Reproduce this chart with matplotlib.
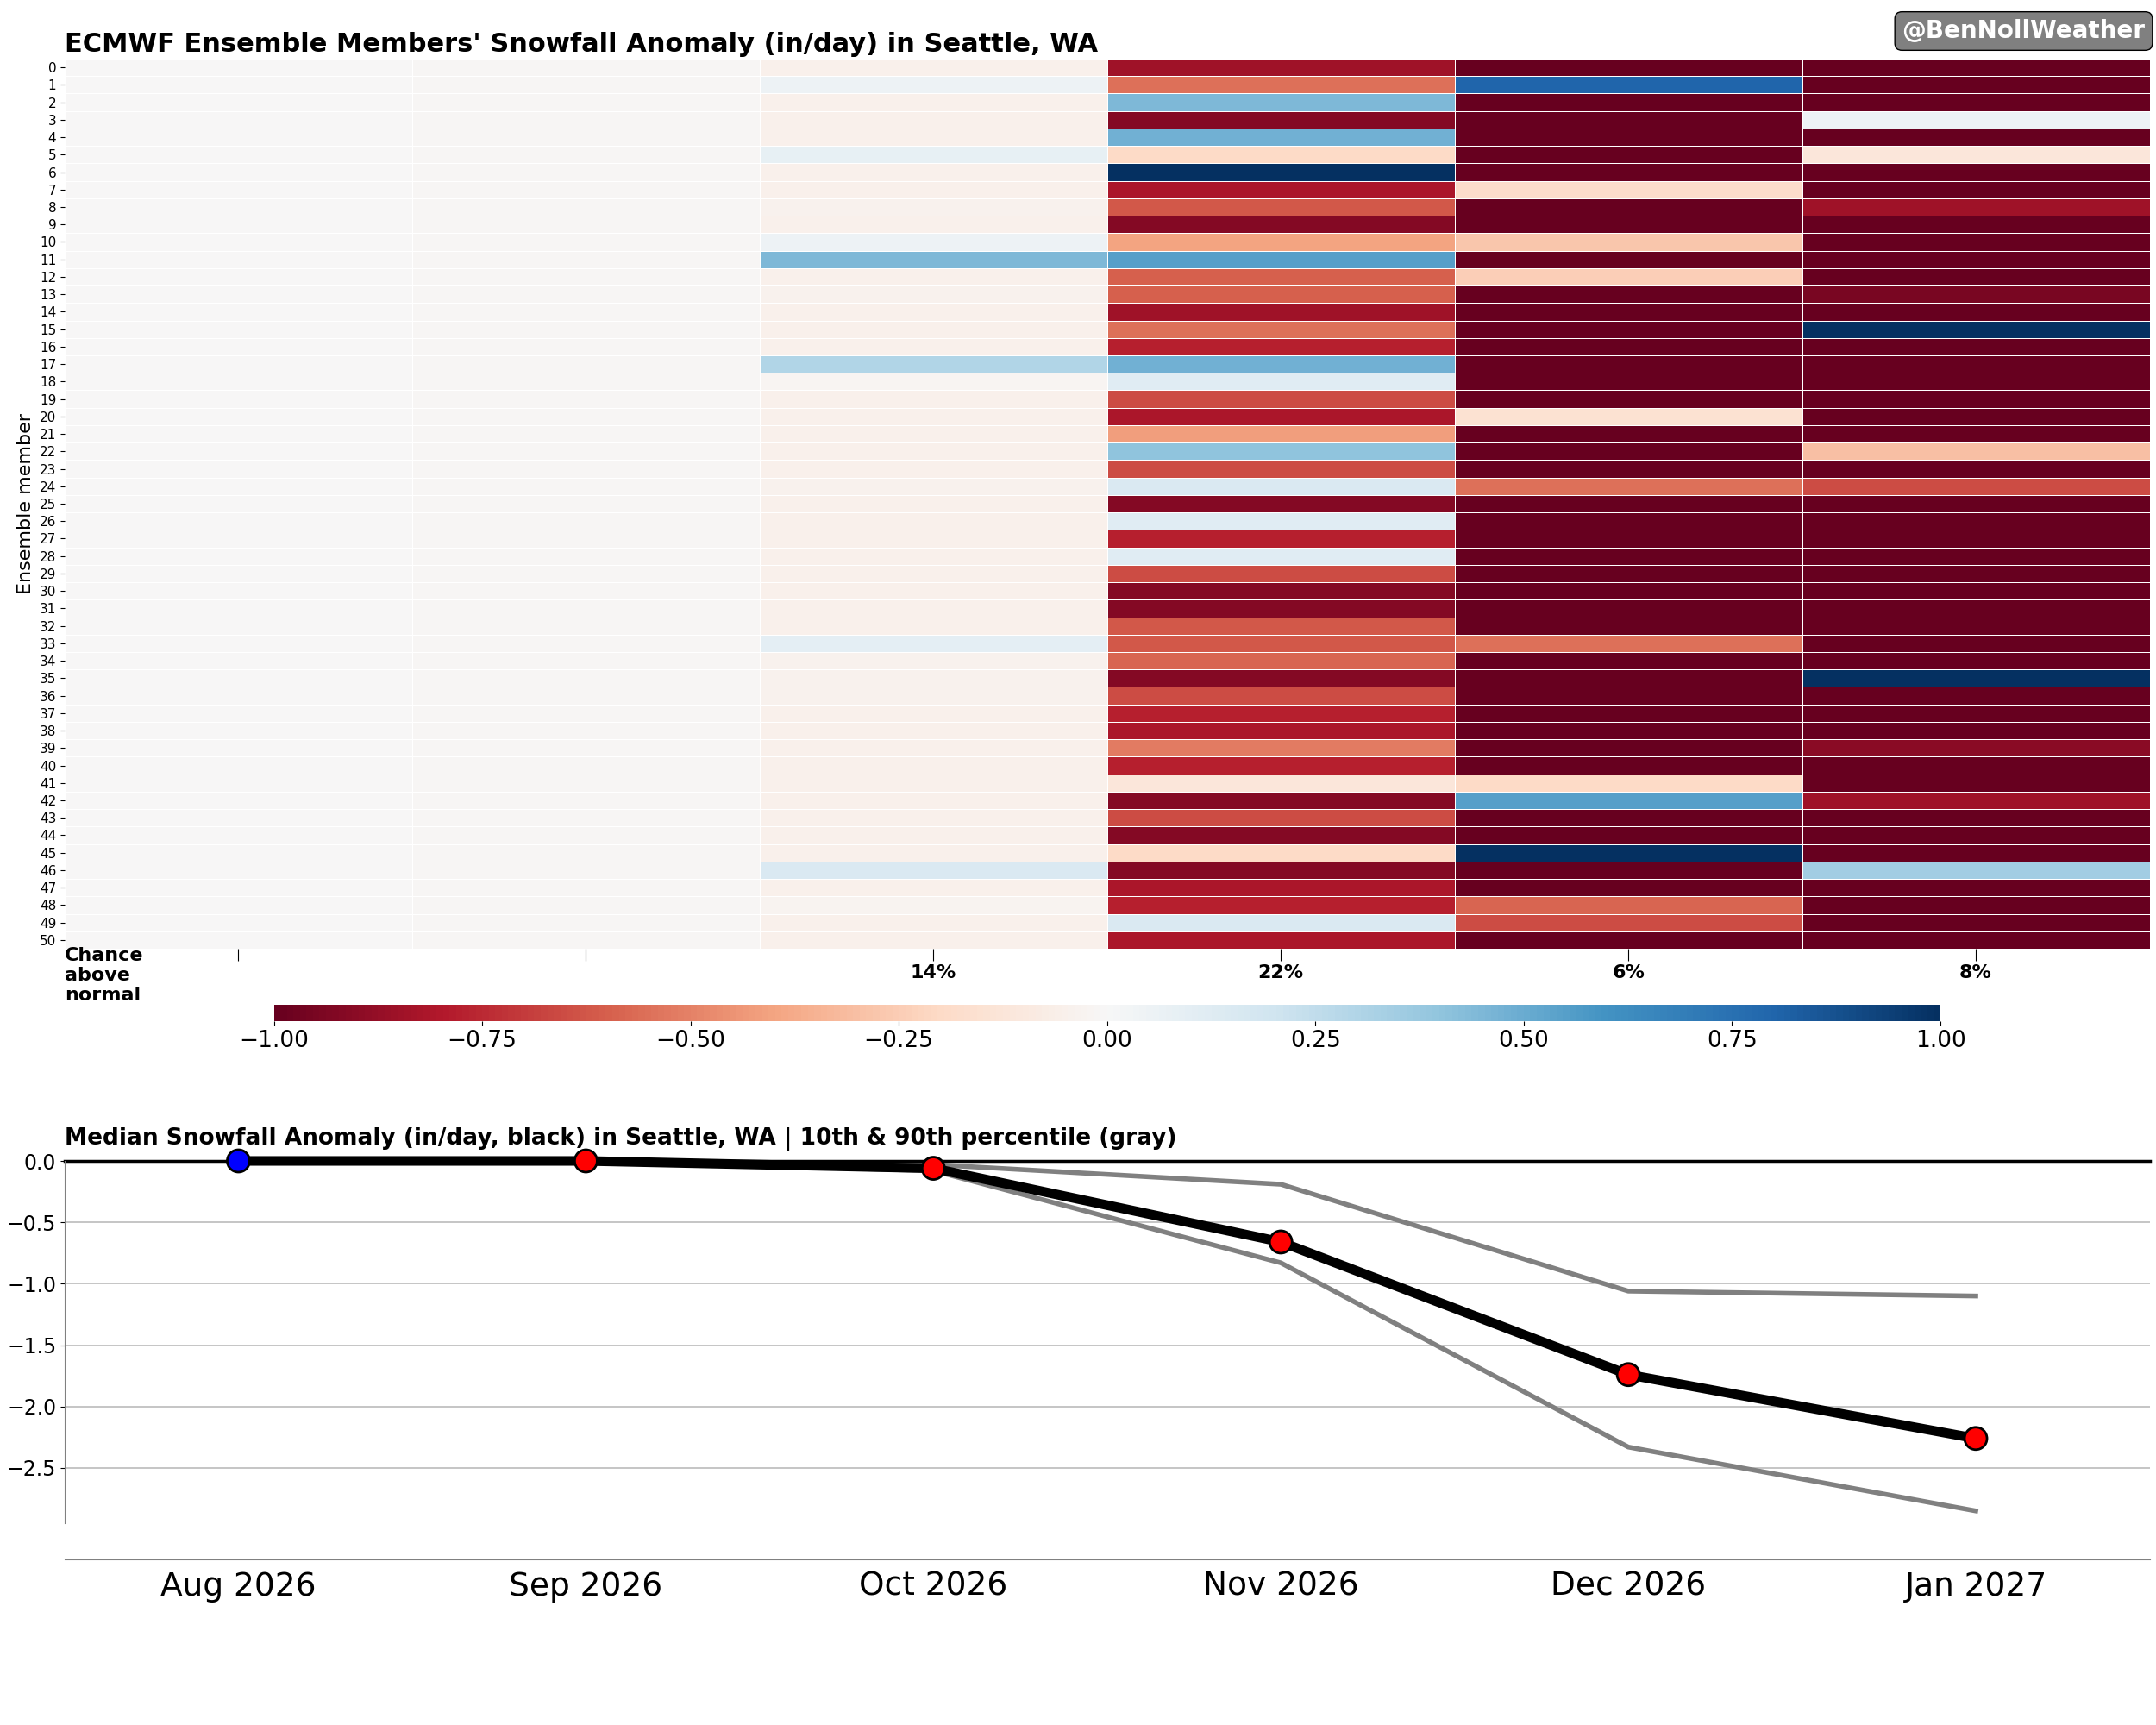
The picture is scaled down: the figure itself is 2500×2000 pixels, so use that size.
import numpy as np
import matplotlib.pyplot as plt

months = ["Aug 2026", "Sep 2026", "Oct 2026", "Nov 2026", "Dec 2026", "Jan 2027"]
chance = ["", "", "14%", "22%", "6%", "8%"]

aug = [-0.005] * 51
sep = [-0.01] * 51
octo = [-0.05, 0.05, -0.05, -0.05, -0.05, 0.08, -0.05, -0.05, -0.04, -0.05,
        0.05, 0.45, -0.05, -0.04, -0.05, -0.05, -0.05, 0.30, -0.02, -0.05,
        -0.05, -0.05, -0.05, -0.05, -0.04, -0.05, -0.05, -0.05, -0.05, -0.05,
        -0.05, -0.05, -0.05, 0.10, -0.04, -0.04, -0.04, -0.05, -0.05, -0.05,
        -0.05, -0.05, -0.05, -0.05, -0.05, -0.05, 0.15, -0.05, -0.03, -0.05,
        -0.05]
nov = [-0.85, -0.55, 0.45, -0.92, 0.48, -0.20, 1.00, -0.82, -0.62, -0.92,
       -0.40, 0.55, -0.60, -0.60, -0.85, -0.55, -0.78, 0.48, 0.12, -0.65,
       -0.82, -0.42, 0.40, -0.65, 0.15, -0.92, 0.12, -0.78, 0.12, -0.65,
       -0.92, -0.92, -0.62, -0.62, -0.58, -0.92, -0.65, -0.78, -0.82, -0.52,
       -0.78, -0.12, -0.92, -0.65, -0.92, -0.20, -0.92, -0.82, -0.78, 0.15,
       -0.82]
dec = [-1.9, 0.80, -2.3, -1.8, -2.1, -1.6, -2.4, -0.18, -1.9, -2.2,
       -0.28, -1.7, -0.25, -2.5, -1.8, -2.0, -1.5, -2.2, -1.9, -2.6,
       -0.15, -1.7, -2.1, -1.8, -0.55, -2.3, -1.6, -2.0, -1.9, -2.4,
       -1.7, -2.2, -1.8, -0.55, -2.0, -1.6, -2.3, -1.9, -2.1, -1.7,
       -2.5, -0.20, 0.55, -1.8, -2.2, 1.20, -1.9, -2.0, -0.58, -0.65,
       -1.8]
jan = [-2.3, -2.1, -2.5, 0.05, -2.2, -0.12, -2.4, -2.0, -0.85, -2.6,
       -2.3, -2.2, -2.4, -0.95, -2.1, 1.20, -2.5, -2.3, -2.2, -2.7,
       -2.1, -2.4, -0.30, -2.3, -0.65, -2.5, -2.2, -2.0, -2.6, -2.3,
       -2.4, -2.1, -2.2, -2.5, -2.3, 1.20, -2.4, -2.2, -2.6, -0.90,
       -2.3, -2.1, -0.85, -2.5, -2.2, -2.4, 0.35, -2.3, -2.6, -2.2,
       -2.4]

median = [0.0, 0.0, -0.06, -0.66, -1.74, -2.26]
p90 = [0.0, 0.0, -0.03, -0.19, -1.06, -1.10]
p10 = [0.0, 0.0, -0.08, -0.83, -2.33, -2.85]

data = np.array([aug, sep, octo, nov, dec, jan]).T

fig = plt.figure(figsize=(25, 20), dpi=100)

ax = fig.add_axes([0.030, 0.45, 0.967, 0.516])
mesh = ax.pcolormesh(data, cmap="RdBu", vmin=-1, vmax=1,
                     edgecolors="white", linewidth=0.4)
ax.set_ylim(data.shape[0], 0)
ax.set_xlim(0, data.shape[1])
ax.set_yticks(np.arange(51) + 0.5)
ax.set_yticklabels([str(i) for i in range(51)], fontsize=11)
ax.set_xticks(np.arange(6) + 0.5)
ax.set_xticklabels([])
ax.tick_params(axis="x", length=10)
for s in ax.spines.values():
    s.set_visible(False)
ax.set_ylabel("Ensemble member", fontsize=16)
ax.set_title("ECMWF Ensemble Members' Snowfall Anomaly (in/day) in Seattle, WA",
             loc="left", fontsize=22, fontweight="bold", pad=6)
for i, c in enumerate(chance):
    ax.text(i + 0.5, 51.9, c, ha="center", va="top", fontsize=16, fontweight="bold")
ax.text(0.0, 50.9, "Chance\nabove\nnormal", ha="left", va="top", fontsize=16,
        fontweight="bold", linespacing=1.2)

fig.text(0.995, 0.982, "@BenNollWeather", ha="right", va="center", fontsize=20,
         fontweight="bold", color="white",
         bbox=dict(boxstyle="round,pad=0.3", fc="gray", ec="black"))

cax = fig.add_axes([0.127, 0.408, 0.773, 0.0095])
cb = fig.colorbar(mesh, cax=cax, orientation="horizontal")
cb.set_ticks(np.arange(-1, 1.01, 0.25))
cb.ax.tick_params(labelsize=19)
cb.outline.set_visible(False)

ax2 = fig.add_axes([0.030, 0.117, 0.967, 0.210])
x = np.arange(6)
ax2.plot(x[1:], p90[1:], color="gray", lw=4, zorder=2)
ax2.plot(x[1:], p10[1:], color="gray", lw=4, zorder=2)
ax2.plot(x, median, color="black", lw=8, zorder=3, clip_on=False)
colors = ["blue"] + ["red"] * 5
ax2.scatter(x, median, c=colors, s=350, edgecolors="black", linewidths=2,
            zorder=4, clip_on=False)
ax2.axhline(0, color="black", lw=2.5, zorder=2.5, clip_on=False)
ax2.set_yticks([0, -0.5, -1.0, -1.5, -2.0, -2.5])
ax2.set_ylim(-2.95, 0.0)
ax2.set_xlim(-0.5, 5.5)
ax2.set_xticks(x)
ax2.set_xticklabels(months)
ax2.tick_params(axis="x", labelsize=27, length=0, pad=10)
ax2.tick_params(axis="y", labelsize=17)
ax2.grid(axis="y", color="#bbbbbb", lw=1.2)
ax2.spines["top"].set_visible(False)
ax2.spines["right"].set_visible(False)
ax2.spines["bottom"].set_position(("outward", 30))
ax2.spines["bottom"].set_color("gray")
ax2.spines["left"].set_color("gray")
ax2.set_title("Median Snowfall Anomaly (in/day, black) in Seattle, WA | 10th & 90th percentile (gray)",
              loc="left", fontsize=19, fontweight="bold", pad=14)

fig.savefig("out.png")
